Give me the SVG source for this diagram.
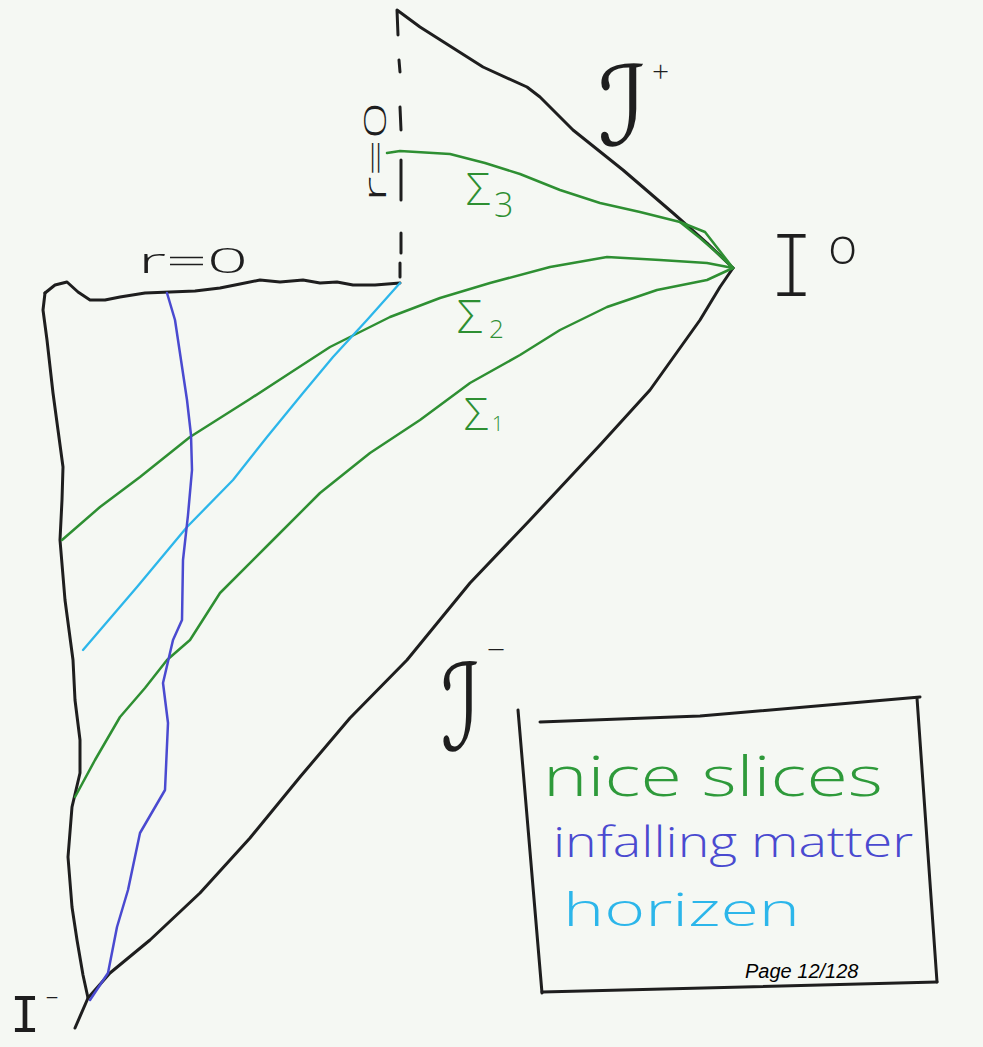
<svg xmlns="http://www.w3.org/2000/svg" width="983" height="1047" viewBox="0 0 983 1047">
<style>
.ink{fill:none;stroke:#1e1e1e;stroke-width:3;stroke-linecap:round;stroke-linejoin:round}
.slice{fill:none;stroke:#2e8f32;stroke-width:2.5;stroke-linecap:round;stroke-linejoin:round}
.matter{fill:none;stroke:#4a4ad0;stroke-width:2.5;stroke-linecap:round;stroke-linejoin:round}
.hor{fill:none;stroke:#2cb6ea;stroke-width:2.3;stroke-linecap:round;stroke-linejoin:round}
.hand{font-family:"Open Sans","DejaVu Sans",sans-serif;font-weight:300}
.mono{font-family:"Liberation Mono",monospace;fill:#1e1e1e}
.scri{font-family:"DejaVu Sans",sans-serif;fill:#1e1e1e}
</style>
<rect width="983" height="1047" fill="#f5f8f3"/>
<g id="boundary">
<path class="ink" d="M45 293 L55 285 L67 282 L78 292 L90 300 L105 300 L120 297 L145 293 L170 292 L195 291 L220 288 L240 284 L260 280 L280 282 L303 280 L320 283 L337 282 L353 285 L375 285 L400 283"/>
<path class="ink" d="M45 293 L43 310 L47 340 L53 393 L58 430 L63 467 L62 500 L60 540 L65 600 L73 660 L75 700 L80 740 L80 773 L72 807 L68 857 L72 907 L77 940 L83 975 L88 998"/>
<path class="ink" d="M75 1028 L88 998 L110 973 L150 940 L200 893 L250 838 L300 777 L350 718 L407 660 L470 583 L530 520 L600 445 L650 390 L700 320 L720 287 L733 268"/>
<path class="ink" d="M398 35 L397 10 L420 27 L483 67 L527 87 L540 97 L573 130 L623 170 L673 213 L707 243 L733 268"/>
<path class="ink" d="M399 60 L400 72 M400 107 L401 130 M401 160 L401 200 M401 233 L401 253 M400 263 L400 277"/>
</g>
<g id="slices">
<path class="slice" d="M387 153 L400 151 L450 154 L485 163 L520 174 L560 190 L600 203 L640 212 L680 222 L705 232 L733 268"/>
<path class="slice" d="M680 222 L700 238 L716 252 L733 268"/>
<path class="slice" d="M62 540 L100 507 L140 477 L190 437 L250 399 L290 373 L330 347 L390 317 L440 298 L490 283 L550 267 L607 257 L660 260 L707 263 L733 268"/>
<path class="slice" d="M75 797 L95 760 L120 717 L145 688 L167 660 L190 640 L220 593 L270 543 L320 493 L370 453 L420 420 L470 383 L520 355 L560 330 L607 307 L657 290 L707 280 L733 268"/>
</g>
<g id="horizon">
<path class="hor" d="M400 283 L367 320 L333 357 L303 393 L267 437 L233 480 L187 527 L137 587 L83 650"/>
</g>
<g id="infalling-matter">
<path class="matter" d="M167 293 L175 320 L181 360 L187 400 L191 435 L192 470 L188 515 L183 560 L182 620 L173 640 L163 683 L168 723 L165 790 L140 833 L128 890 L117 927 L108 973 L90 1000"/>
</g>
<g id="labels">
<text class="hand" x="138" y="273" font-size="34" fill="#1e1e1e" textLength="110" lengthAdjust="spacingAndGlyphs">r=0</text>
<text class="hand" transform="translate(386 152) rotate(-90)" font-size="32" fill="#1e1e1e" text-anchor="middle" textLength="100" lengthAdjust="spacingAndGlyphs">r=0</text>
<text class="scri" transform="translate(598 145) scale(0.95 1)" font-size="110">ℐ</text>
<text class="hand" x="652" y="82" font-size="30" fill="#1e1e1e">+</text>
<text class="scri" transform="translate(441 750) scale(0.7 1)" font-size="120">ℐ</text>
<text class="hand" x="486" y="658" font-size="30" fill="#1e1e1e" textLength="20" lengthAdjust="spacingAndGlyphs">-</text>
<text class="mono" x="768" y="298" font-size="100" textLength="47" lengthAdjust="spacingAndGlyphs" stroke="#f5f8f3" stroke-width="4">I</text>
<text class="hand" x="828" y="264" font-size="50" fill="#1e1e1e">o</text>
<text class="mono" x="10" y="1032" font-size="54" textLength="30" lengthAdjust="spacingAndGlyphs">I</text>
<text class="hand" x="45" y="1006" font-size="30" fill="#1e1e1e" textLength="14" lengthAdjust="spacingAndGlyphs">-</text>
<text class="hand" x="466" y="205" font-size="44" fill="#2e8f32">Σ</text>
<text class="hand" x="494" y="217" font-size="34" fill="#2e8f32">3</text>
<text class="hand" x="457" y="333" font-size="46" fill="#2e8f32">Σ</text>
<text class="hand" x="489" y="338" font-size="26" fill="#2e8f32">2</text>
<text class="hand" x="464" y="430" font-size="44" fill="#2e8f32">Σ</text>
<text class="hand" x="492" y="431" font-size="20" fill="#2e8f32">1</text>
</g>
<g id="legend">
<path class="ink" d="M518 710 L542 993"/>
<path class="ink" d="M540 722 L700 716 L920 697"/>
<path class="ink" d="M917 698 L937 982"/>
<path class="ink" d="M542 992 L937 982"/>
<text class="hand" x="543" y="796" font-size="56" fill="#2e9a3a" textLength="340" lengthAdjust="spacingAndGlyphs">nice slices</text>
<text class="hand" x="553" y="857" font-size="42" fill="#4a4ad0" textLength="360" lengthAdjust="spacingAndGlyphs">infalling matter</text>
<text class="hand" x="563" y="926" font-size="46" fill="#2cb6ea" textLength="237" lengthAdjust="spacingAndGlyphs">horizen</text>
<text x="745" y="978" font-family="Liberation Sans,Arial,sans-serif" font-style="italic" font-size="20" fill="#000">Page 12/128</text>
</g>
</svg>
